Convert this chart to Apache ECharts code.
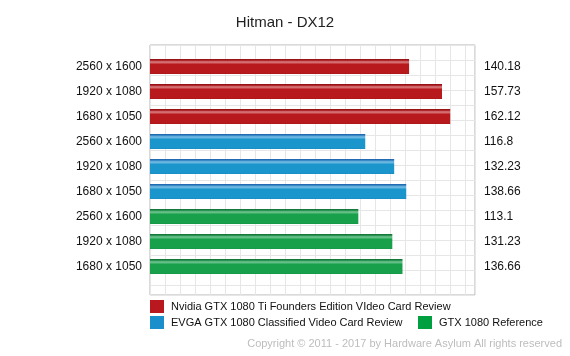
<!DOCTYPE html>
<html>
<head>
<meta charset="utf-8">
<script src="https://cdn.jsdelivr.net/npm/echarts@6/dist/echarts.min.js"></script>
<style>html,body{margin:0;padding:0;background:#fff;}#c{width:570px;height:356px;}</style>
</head>
<body>
<div id="c"></div>
<script>
const resolutions = ['2560 x 1600', '1920 x 1080', '1680 x 1050'];
const nvidiaValues = [140.18, 157.73, 162.12];
const evgaValues = [116.8, 132.23, 138.66];
const referenceValues = [113.1, 131.23, 136.66];
const seriesNames = ['Nvidia GTX 1080 Ti Founders Edition VIdeo Card Review', 'EVGA GTX 1080 Classified Video Card Review', 'GTX 1080 Reference'];
const chartTitle = 'Hitman - DX12';
const copyrightText = 'Copyright \u00a9 2011 - 2017 by Hardware Asylum All rights reserved';

const groups = [nvidiaValues, evgaValues, referenceValues];
const categories = [].concat(resolutions, resolutions, resolutions);
const allValues = [].concat(nvidiaValues, evgaValues, referenceValues);
const padded = groups.map((g, gi) => categories.map((_, i) => Math.floor(i / 3) === gi ? g[i % 3] : '-'));

const palettes = [
  { legend: '#b8181e', top: '#8c1013', mid: '#a8161a', hi: '#dc8486', main: '#b8191c', bot: '#a9171a' },
  { legend: '#1a8fcb', top: '#1d5ca6', mid: '#2a7fc0', hi: '#7cc0e6', main: '#1b96cd', bot: '#1a8cc2' },
  { legend: '#00a040', top: '#136a34', mid: '#1a8a45', hi: '#76c895', main: '#19a04b', bot: '#17954a' }
];

function grad(p) {
  return new echarts.graphic.LinearGradient(0, 0, 0, 1, [
    { offset: 0, color: p.top },
    { offset: 0.08, color: p.mid },
    { offset: 0.2, color: p.hi },
    { offset: 0.36, color: p.main },
    { offset: 0.9, color: p.main },
    { offset: 1, color: p.bot }
  ]);
}

const font = '"Liberation Sans", Arial, Helvetica, sans-serif';
const chart = echarts.init(document.getElementById('c'), null, { renderer: 'canvas' });
const legendText = { fontSize: 11, color: '#111', fontFamily: font, padding: [0, 0, 0, 2] };

const option = {
  animation: false,
  backgroundColor: '#fff',
  textStyle: { fontFamily: font },
  title: [
    { text: chartTitle, left: 'center', top: 15, padding: 0, textStyle: { fontSize: 15, fontWeight: 'normal', color: '#222', fontFamily: font } },
    { text: copyrightText, right: 8, top: 338, padding: 0, textStyle: { fontSize: 11, fontWeight: 'normal', color: '#bdbdbd', fontFamily: font } }
  ],
  legend: [
    { data: [seriesNames[0]], left: 150, top: 300, itemWidth: 14, itemHeight: 13, icon: 'rect', selectedMode: false, textStyle: legendText, padding: 0 },
    { data: [seriesNames[1]], left: 150, top: 316, itemWidth: 14, itemHeight: 13, icon: 'rect', selectedMode: false, textStyle: legendText, padding: 0 },
    { data: [seriesNames[2]], left: 418, top: 316, itemWidth: 14, itemHeight: 13, icon: 'rect', selectedMode: false, textStyle: legendText, padding: 0 }
  ],
  grid: [
    { left: 150, top: 45, width: 325, height: 250, show: true, borderColor: '#b4b4b4', borderWidth: 1, backgroundColor: '#fff' },
    { left: 150, top: 54, width: 325, height: 225 }
  ],
  xAxis: [
    { gridIndex: 0, type: 'value', min: 0, max: 325 / 15, interval: 1, axisLabel: { show: false }, axisLine: { show: false }, axisTick: { show: false }, splitLine: { show: true, lineStyle: { color: '#e6e6e6', width: 1 } } },
    { gridIndex: 1, type: 'value', min: 2, max: 2 + 325 * 8 / 15, interval: 8, show: false, splitLine: { show: false } }
  ],
  yAxis: [
    { gridIndex: 0, type: 'value', inverse: true, min: 0, max: 250 / 15, interval: 1, axisLabel: { show: false }, axisLine: { show: false }, axisTick: { show: false }, splitLine: { show: true, lineStyle: { color: '#e6e6e6', width: 1 } } },
    { gridIndex: 1, type: 'category', inverse: true, data: categories, position: 'left', axisLine: { show: false }, axisTick: { show: false }, axisLabel: { margin: 8, fontSize: 12, color: '#111', fontFamily: font } },
    { gridIndex: 1, type: 'category', inverse: true, data: allValues.map(String), position: 'right', axisLine: { show: false }, axisTick: { show: false }, axisLabel: { margin: 9, fontSize: 12, color: '#111', fontFamily: font } }
  ],
  series: groups.map((g, gi) => ({
    name: seriesNames[gi],
    type: 'bar',
    xAxisIndex: 1,
    yAxisIndex: 1,
    data: padded[gi],
    barWidth: 15,
    barGap: '-100%',
    clip: true,
    color: palettes[gi].legend,
    itemStyle: {
      color: grad(palettes[gi]),
      shadowColor: 'rgba(0,0,0,0.45)',
      shadowBlur: 2,
      shadowOffsetX: 1,
      shadowOffsetY: 2
    }
  }))
};
chart.setOption(option);
chart.setOption({ legend: palettes.map((p) => ({ itemStyle: { color: p.legend, shadowBlur: 0, shadowOffsetX: 0, shadowOffsetY: 0, shadowColor: 'transparent' } })) });
</script>
</body>
</html>
